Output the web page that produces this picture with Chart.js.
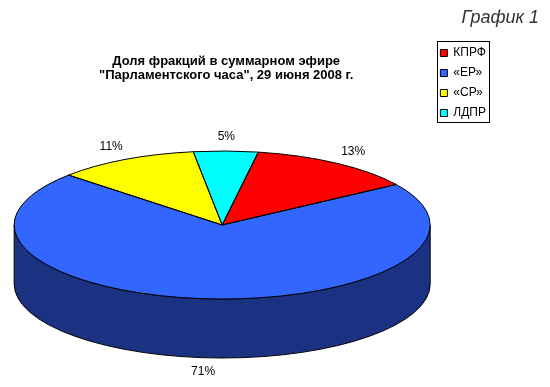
<!DOCTYPE html>
<html>
<head>
<meta charset="utf-8">
<script src="https://cdn.jsdelivr.net/npm/chart.js@4.4.0/dist/chart.umd.min.js"></script>
<style>
  html, body { margin: 0; padding: 0; background: #fff; }
  #wrap { position: relative; width: 550px; height: 387px; }
</style>
</head>
<body>
<div id="wrap"><canvas id="pie"></canvas></div>
<script>
// --- data ---
var factions = ['КПРФ', '«ЕР»', '«СР»', 'ЛДПР'];
var shares = [13, 71, 11, 5];
var titleLines = ['Доля фракций в суммарном эфире', '"Парламентского часа", 29 июня 2008 г.'];
var chartTag = 'График 1';

// --- styles ---
var faceColors = ['#FF0000', '#3366FF', '#FFFF00', '#00FFFF'];
var sideColors = ['#800000', '#1B3282', '#808000', '#008080'];
var FONT = 'Arial, "Liberation Sans", sans-serif';

// 3D tilt geometry (pixels)
var PIE = { dx: -4, cy: 225, rx: 208, ry: 74, depth: 59 };

function frontRanges(a0, a1) {
  // parts of [a0, a1] that fall on the front (lower) half of the ellipse
  var out = [];
  for (var k = -2; k <= 2; k++) {
    var s = Math.max(a0, 2 * Math.PI * k), e = Math.min(a1, 2 * Math.PI * k + Math.PI);
    if (e > s) out.push([s, e]);
  }
  return out;
}

var pie3d = {
  id: 'pie3d',
  beforeDatasetsDraw: function(chart) {
    var ctx = chart.ctx;
    var arcs = chart.getDatasetMeta(0).data;
    var cx = arcs[0].x + PIE.dx, cy = PIE.cy;

    // side walls
    ctx.save();
    ctx.lineWidth = 1;
    ctx.strokeStyle = '#000';
    arcs.forEach(function(arc, i) {
      frontRanges(arc.startAngle, arc.endAngle).forEach(function(r) {
        ctx.beginPath();
        ctx.ellipse(cx, cy, PIE.rx, PIE.ry, 0, r[0], r[1]);
        ctx.ellipse(cx, cy + PIE.depth, PIE.rx, PIE.ry, 0, r[1], r[0], true);
        ctx.closePath();
        ctx.fillStyle = sideColors[i];
        ctx.fill();
        ctx.stroke();
      });
    });
    ctx.restore();

    // flatten the library's round pie onto the top face
    var R = arcs[0].outerRadius;
    ctx.save();
    ctx.translate(cx, cy);
    ctx.scale(PIE.rx / R, PIE.ry / R);
    ctx.translate(-arcs[0].x, -arcs[0].y);
  },
  afterDatasetsDraw: function(chart) {
    var ctx = chart.ctx;
    ctx.restore();
    var arcs = chart.getDatasetMeta(0).data;
    var cx = arcs[0].x + PIE.dx, cy = PIE.cy;

    ctx.save();
    ctx.lineWidth = 1;
    ctx.strokeStyle = '#000';
    arcs.forEach(function(arc) {
      ctx.beginPath();
      ctx.moveTo(cx, cy);
      ctx.ellipse(cx, cy, PIE.rx, PIE.ry, 0, arc.startAngle, arc.endAngle);
      ctx.closePath();
      ctx.stroke();
    });

    // percentage labels
    ctx.fillStyle = '#000';
    ctx.font = '12px ' + FONT;
    ctx.textAlign = 'center';
    ctx.textBaseline = 'middle';
    arcs.forEach(function(arc, i) {
      var t = (arc.startAngle + arc.endAngle) / 2;
      var x = cx + (PIE.rx + 30) * Math.cos(t);
      var y = cy + (PIE.ry + 14) * Math.sin(t) + (Math.sin(t) > 0 ? PIE.depth : 0);
      ctx.fillText(shares[i] + '%', x, y);
    });
    ctx.restore();
  },
  afterDraw: function(chart) {
    var ctx = chart.ctx;
    var boxes = chart.legend.legendHitBoxes;
    if (boxes && boxes.length) {
      var l = Infinity, r = -Infinity;
      boxes.forEach(function(b) { l = Math.min(l, b.left); r = Math.max(r, b.left + b.width); });
      var last = boxes[boxes.length - 1];
      ctx.save();
      ctx.strokeStyle = '#000';
      ctx.lineWidth = 1;
      ctx.strokeRect(Math.round(l - 3) + 0.5, Math.round(boxes[0].top - 6) + 0.5,
        Math.round(r - l + 6), Math.round(last.top + last.height + 3 - boxes[0].top + 6));
      ctx.restore();
    }
    ctx.save();
    ctx.fillStyle = '#333';
    ctx.font = 'italic 18px ' + FONT;
    ctx.textAlign = 'right';
    ctx.textBaseline = 'middle';
    ctx.fillText(chartTag, 539, 18);
    ctx.restore();
  }
};

new Chart(document.getElementById('pie'), {
  type: 'pie',
  data: {
    labels: factions,
    datasets: [{
      data: shares,
      backgroundColor: faceColors,
      borderWidth: 0,
      hoverOffset: 0,
      clip: false
    }]
  },
  options: {
    responsive: true,
    maintainAspectRatio: false,
    animation: false,
    rotation: 10,
    events: [],
    layout: { padding: { top: 39, left: 20, right: 54, bottom: 0 } },
    plugins: {
      tooltip: { enabled: false },
      title: {
        display: true,
        fullSize: false,
        text: titleLines,
        color: '#000',
        font: { family: FONT, size: 13, weight: 'bold', lineHeight: 1.05 },
        padding: { top: 16, bottom: 0 }
      },
      legend: {
        position: 'right',
        align: 'start',
        labels: {
          color: '#000',
          font: { family: FONT, size: 12 },
          boxWidth: 7,
          boxHeight: 7,
          padding: 8,
          generateLabels: function(chart) {
            var items = Chart.overrides.pie.plugins.legend.labels.generateLabels(chart);
            items.forEach(function(it) { it.strokeStyle = '#000'; it.lineWidth = 1; });
            return items;
          }
        }
      }
    }
  },
  plugins: [pie3d]
});
</script>
</body>
</html>
